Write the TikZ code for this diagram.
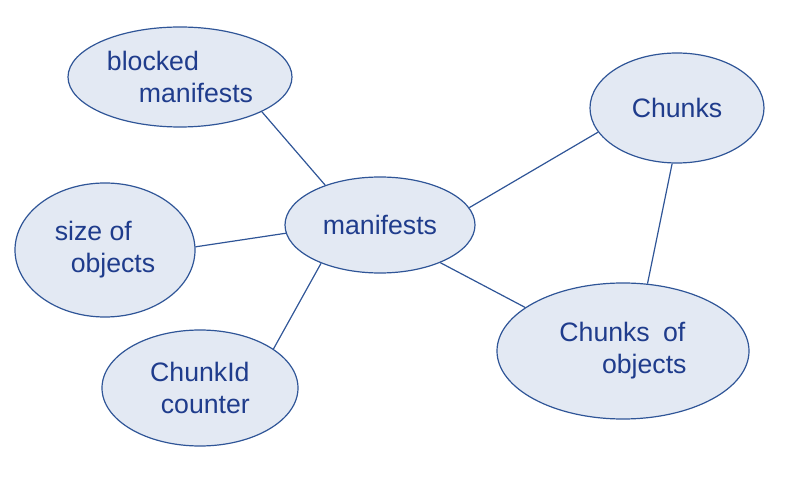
\documentclass[tikz,border=0pt]{standalone}
\usepackage{fontspec}
\setmainfont{Liberation Sans}
\usetikzlibrary{shapes.geometric}
\definecolor{bubblefill}{HTML}{E3E9F3}
\definecolor{bubbleline}{HTML}{2F5597}
\definecolor{inkblue}{HTML}{1F3C8C}
\tikzset{
  bubble/.style={ellipse, draw=bubbleline, fill=bubblefill, line width=0.9pt, inner sep=0pt,
    text=inkblue, font=\fontsize{20}{24}\selectfont, align=left},
  link/.style={draw=bubbleline, line width=0.9pt}
}
\begin{document}
\begin{tikzpicture}[x=0.75pt,y=0.75pt]
\useasboundingbox (0,0) rectangle (800,482);
\node[bubble, minimum width=168pt, minimum height=75pt] (blocked) at (180,405) {blocked\\\hspace{1.2em}manifests};
\node[bubble, minimum width=135pt, minimum height=100.5pt] (size) at (105,232) {size of\\\hspace{0.6em}objects};
\node[bubble, minimum width=147pt, minimum height=87pt] (chunkid) at (200,94) {ChunkId\\\hspace{0.4em}counter};
\node[bubble, minimum width=142.5pt, minimum height=72pt] (manifests) at (380,257) {manifests};
\node[bubble, minimum width=130.5pt, minimum height=82.5pt] (chunks) at (677,374) {Chunks};
\node[bubble, minimum width=189pt, minimum height=102pt] (chobj) at (623,131) {Chunks\enspace of\\\hspace{1.6em}objects};
\draw[link] (blocked.-23) -- (manifests.144);
\draw[link] (size.2.5) -- (manifests.185.6);
\draw[link] (chunkid.28) -- (manifests.213);
\draw[link] (manifests.11.3) -- (chunks.197.7);
\draw[link] (manifests.-32.6) -- (chobj.156.9);
\draw[link] (chunks.265) -- (chobj.70);
\end{tikzpicture}
\end{document}
